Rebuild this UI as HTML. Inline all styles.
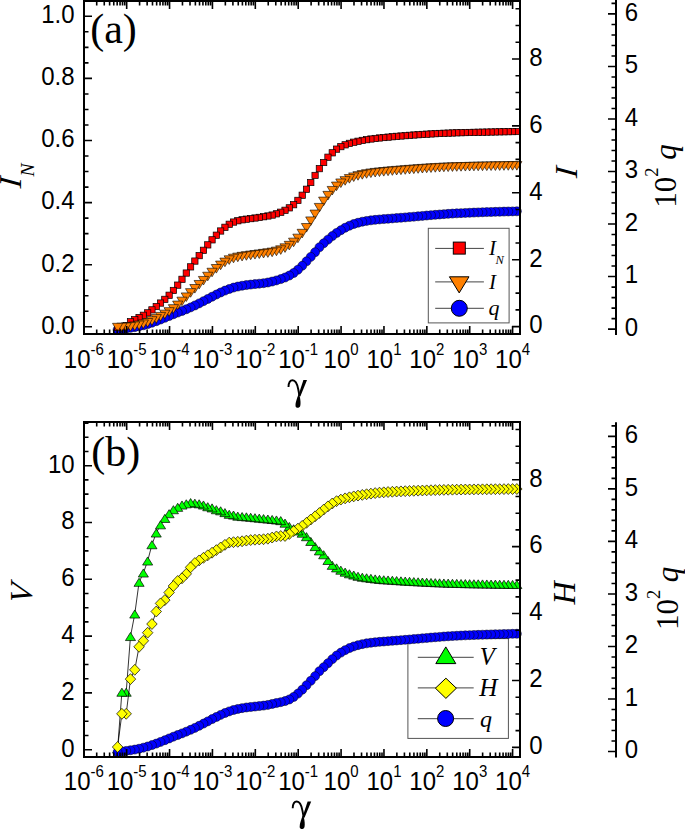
<!DOCTYPE html>
<html><head><meta charset="utf-8"><style>
html,body{margin:0;padding:0;background:#fff;overflow:hidden}
svg{display:block}
.tk{font-family:"Liberation Sans",sans-serif;font-size:24px;fill:#000}
.sup{font-size:15px}
.se{font-family:"Liberation Serif",serif;fill:#000}
.it{font-family:"Liberation Serif",serif;font-style:italic;fill:#000}
</style></head><body>
<svg width="685" height="829" viewBox="0 0 685 829">
<rect x="0" y="0" width="685" height="829" fill="#fff"/>
<polyline points="117.6,329.8 121.89,329.14 126.19,328.49 130.48,327.87 134.77,327.18 139.06,326.32 143.36,325.28 147.65,324.09 151.94,322.7 156.24,321.2 160.53,319.54 164.82,317.81 169.12,316.05 173.41,314.28 177.7,312.59 182,310.97 186.29,309.26 190.58,307.42 194.87,305.47 199.17,303.38 203.46,301.19 207.75,298.97 212.05,296.71 216.34,294.56 220.63,292.48 224.93,290.62 229.22,288.99 233.51,287.59 237.8,286.55 242.1,285.72 246.39,285.07 250.68,284.57 254.98,284.11 259.27,283.66 263.56,283.19 267.86,282.5 272.15,281.54 276.44,280.42 280.73,279.11 285.03,277.52 289.32,275.54 293.61,273.03 297.91,269.71 302.2,265.81 306.49,261.37 310.78,256.88 315.08,252.22 319.37,247.34 323.66,243.3 327.96,239.63 332.25,236.11 336.54,232.98 340.84,230.2 345.13,227.74 349.42,225.7 353.72,224.02 358.01,222.73 362.3,221.7 366.59,220.93 370.89,220.33 375.18,219.83 379.47,219.43 383.77,219.08 388.06,218.74 392.35,218.4 396.64,218.06 400.94,217.73 405.23,217.39 409.52,217.04 413.82,216.68 418.11,216.29 422.4,215.91 426.7,215.53 430.99,215.17 435.28,214.82 439.58,214.46 443.87,214.13 448.16,213.83 452.45,213.58 456.75,213.35 461.04,213.14 465.33,212.94 469.63,212.75 473.92,212.58 478.21,212.42 482.5,212.26 486.8,212.12 491.09,211.98 495.38,211.84 499.68,211.71 503.97,211.6 508.26,211.49 512.56,211.39 516.85,211.3" fill="none" stroke="#000" stroke-width="0.8"/>
<g fill="#00f" stroke="#000" stroke-width="0.5">
<circle cx="516.85" cy="211.3" r="4.5"/>
<circle cx="512.56" cy="211.39" r="4.5"/>
<circle cx="508.26" cy="211.49" r="4.5"/>
<circle cx="503.97" cy="211.6" r="4.5"/>
<circle cx="499.68" cy="211.71" r="4.5"/>
<circle cx="495.38" cy="211.84" r="4.5"/>
<circle cx="491.09" cy="211.98" r="4.5"/>
<circle cx="486.8" cy="212.12" r="4.5"/>
<circle cx="482.5" cy="212.26" r="4.5"/>
<circle cx="478.21" cy="212.42" r="4.5"/>
<circle cx="473.92" cy="212.58" r="4.5"/>
<circle cx="469.63" cy="212.75" r="4.5"/>
<circle cx="465.33" cy="212.94" r="4.5"/>
<circle cx="461.04" cy="213.14" r="4.5"/>
<circle cx="456.75" cy="213.35" r="4.5"/>
<circle cx="452.45" cy="213.58" r="4.5"/>
<circle cx="448.16" cy="213.83" r="4.5"/>
<circle cx="443.87" cy="214.13" r="4.5"/>
<circle cx="439.58" cy="214.46" r="4.5"/>
<circle cx="435.28" cy="214.82" r="4.5"/>
<circle cx="430.99" cy="215.17" r="4.5"/>
<circle cx="426.7" cy="215.53" r="4.5"/>
<circle cx="422.4" cy="215.91" r="4.5"/>
<circle cx="418.11" cy="216.29" r="4.5"/>
<circle cx="413.82" cy="216.68" r="4.5"/>
<circle cx="409.52" cy="217.04" r="4.5"/>
<circle cx="405.23" cy="217.39" r="4.5"/>
<circle cx="400.94" cy="217.73" r="4.5"/>
<circle cx="396.64" cy="218.06" r="4.5"/>
<circle cx="392.35" cy="218.4" r="4.5"/>
<circle cx="388.06" cy="218.74" r="4.5"/>
<circle cx="383.77" cy="219.08" r="4.5"/>
<circle cx="379.47" cy="219.43" r="4.5"/>
<circle cx="375.18" cy="219.83" r="4.5"/>
<circle cx="370.89" cy="220.33" r="4.5"/>
<circle cx="366.59" cy="220.93" r="4.5"/>
<circle cx="362.3" cy="221.7" r="4.5"/>
<circle cx="358.01" cy="222.73" r="4.5"/>
<circle cx="353.72" cy="224.02" r="4.5"/>
<circle cx="349.42" cy="225.7" r="4.5"/>
<circle cx="345.13" cy="227.74" r="4.5"/>
<circle cx="340.84" cy="230.2" r="4.5"/>
<circle cx="336.54" cy="232.98" r="4.5"/>
<circle cx="332.25" cy="236.11" r="4.5"/>
<circle cx="327.96" cy="239.63" r="4.5"/>
<circle cx="323.66" cy="243.3" r="4.5"/>
<circle cx="319.37" cy="247.34" r="4.5"/>
<circle cx="315.08" cy="252.22" r="4.5"/>
<circle cx="310.78" cy="256.88" r="4.5"/>
<circle cx="306.49" cy="261.37" r="4.5"/>
<circle cx="302.2" cy="265.81" r="4.5"/>
<circle cx="297.91" cy="269.71" r="4.5"/>
<circle cx="293.61" cy="273.03" r="4.5"/>
<circle cx="289.32" cy="275.54" r="4.5"/>
<circle cx="285.03" cy="277.52" r="4.5"/>
<circle cx="280.73" cy="279.11" r="4.5"/>
<circle cx="276.44" cy="280.42" r="4.5"/>
<circle cx="272.15" cy="281.54" r="4.5"/>
<circle cx="267.86" cy="282.5" r="4.5"/>
<circle cx="263.56" cy="283.19" r="4.5"/>
<circle cx="259.27" cy="283.66" r="4.5"/>
<circle cx="254.98" cy="284.11" r="4.5"/>
<circle cx="250.68" cy="284.57" r="4.5"/>
<circle cx="246.39" cy="285.07" r="4.5"/>
<circle cx="242.1" cy="285.72" r="4.5"/>
<circle cx="237.8" cy="286.55" r="4.5"/>
<circle cx="233.51" cy="287.59" r="4.5"/>
<circle cx="229.22" cy="288.99" r="4.5"/>
<circle cx="224.93" cy="290.62" r="4.5"/>
<circle cx="220.63" cy="292.48" r="4.5"/>
<circle cx="216.34" cy="294.56" r="4.5"/>
<circle cx="212.05" cy="296.71" r="4.5"/>
<circle cx="207.75" cy="298.97" r="4.5"/>
<circle cx="203.46" cy="301.19" r="4.5"/>
<circle cx="199.17" cy="303.38" r="4.5"/>
<circle cx="194.87" cy="305.47" r="4.5"/>
<circle cx="190.58" cy="307.42" r="4.5"/>
<circle cx="186.29" cy="309.26" r="4.5"/>
<circle cx="182" cy="310.97" r="4.5"/>
<circle cx="177.7" cy="312.59" r="4.5"/>
<circle cx="173.41" cy="314.28" r="4.5"/>
<circle cx="169.12" cy="316.05" r="4.5"/>
<circle cx="164.82" cy="317.81" r="4.5"/>
<circle cx="160.53" cy="319.54" r="4.5"/>
<circle cx="156.24" cy="321.2" r="4.5"/>
<circle cx="151.94" cy="322.7" r="4.5"/>
<circle cx="147.65" cy="324.09" r="4.5"/>
<circle cx="143.36" cy="325.28" r="4.5"/>
<circle cx="139.06" cy="326.32" r="4.5"/>
<circle cx="134.77" cy="327.18" r="4.5"/>
<circle cx="130.48" cy="327.87" r="4.5"/>
<circle cx="126.19" cy="328.49" r="4.5"/>
<circle cx="121.89" cy="329.14" r="4.5"/>
<circle cx="117.6" cy="329.8" r="4.5"/>
</g>
<polyline points="117.6,327.5 121.89,326.8 126.19,325.8 130.48,321.77 134.77,319.72 139.06,317.51 143.36,315.28 147.65,312.86 151.94,309.88 156.24,306.55 160.53,303.06 164.82,299.36 169.12,295.25 173.41,290.45 177.7,285.14 182,279.33 186.29,273.06 190.58,266.87 194.87,261.08 199.17,255.62 203.46,250.3 207.75,244.88 212.05,239.85 216.34,235.21 220.63,231 224.93,227.29 229.22,224.28 233.51,222.07 237.8,220.74 242.1,219.81 246.39,219.16 250.68,218.62 254.98,218.01 259.27,217.39 263.56,216.71 267.86,215.97 272.15,215.07 276.44,213.82 280.73,212.23 285.03,210.28 289.32,207.85 293.61,204.7 297.91,200.39 302.2,195.25 306.49,189.26 310.78,182.5 315.08,175.44 319.37,168.64 323.66,162.51 327.96,157.22 332.25,152.82 336.54,149.13 340.84,146.63 345.13,144.83 349.42,143.37 353.72,142.21 358.01,141.25 362.3,140.41 366.59,139.65 370.89,139.01 375.18,138.47 379.47,137.98 383.77,137.54 388.06,137.12 392.35,136.73 396.64,136.35 400.94,136 405.23,135.66 409.52,135.33 413.82,135.01 418.11,134.71 422.4,134.43 426.7,134.17 430.99,133.92 435.28,133.68 439.58,133.46 443.87,133.27 448.16,133.11 452.45,132.96 456.75,132.82 461.04,132.69 465.33,132.58 469.63,132.47 473.92,132.36 478.21,132.26 482.5,132.17 486.8,132.09 491.09,132 495.38,131.92 499.68,131.83 503.97,131.75 508.26,131.67 512.56,131.6 516.85,131.52" fill="none" stroke="#000" stroke-width="0.8"/>
<g fill="#f00" stroke="#000" stroke-width="0.7">
<rect x="513.7" y="128.37" width="6.3" height="6.3"/>
<rect x="509.41" y="128.45" width="6.3" height="6.3"/>
<rect x="505.11" y="128.52" width="6.3" height="6.3"/>
<rect x="500.82" y="128.6" width="6.3" height="6.3"/>
<rect x="496.53" y="128.68" width="6.3" height="6.3"/>
<rect x="492.23" y="128.77" width="6.3" height="6.3"/>
<rect x="487.94" y="128.85" width="6.3" height="6.3"/>
<rect x="483.65" y="128.94" width="6.3" height="6.3"/>
<rect x="479.36" y="129.02" width="6.3" height="6.3"/>
<rect x="475.06" y="129.11" width="6.3" height="6.3"/>
<rect x="470.77" y="129.21" width="6.3" height="6.3"/>
<rect x="466.48" y="129.32" width="6.3" height="6.3"/>
<rect x="462.18" y="129.43" width="6.3" height="6.3"/>
<rect x="457.89" y="129.54" width="6.3" height="6.3"/>
<rect x="453.6" y="129.67" width="6.3" height="6.3"/>
<rect x="449.3" y="129.81" width="6.3" height="6.3"/>
<rect x="445.01" y="129.96" width="6.3" height="6.3"/>
<rect x="440.72" y="130.12" width="6.3" height="6.3"/>
<rect x="436.43" y="130.31" width="6.3" height="6.3"/>
<rect x="432.13" y="130.53" width="6.3" height="6.3"/>
<rect x="427.84" y="130.77" width="6.3" height="6.3"/>
<rect x="423.55" y="131.02" width="6.3" height="6.3"/>
<rect x="419.25" y="131.28" width="6.3" height="6.3"/>
<rect x="414.96" y="131.56" width="6.3" height="6.3"/>
<rect x="410.67" y="131.86" width="6.3" height="6.3"/>
<rect x="406.37" y="132.18" width="6.3" height="6.3"/>
<rect x="402.08" y="132.51" width="6.3" height="6.3"/>
<rect x="397.79" y="132.85" width="6.3" height="6.3"/>
<rect x="393.5" y="133.2" width="6.3" height="6.3"/>
<rect x="389.2" y="133.58" width="6.3" height="6.3"/>
<rect x="384.91" y="133.97" width="6.3" height="6.3"/>
<rect x="380.62" y="134.39" width="6.3" height="6.3"/>
<rect x="376.32" y="134.83" width="6.3" height="6.3"/>
<rect x="372.03" y="135.32" width="6.3" height="6.3"/>
<rect x="367.74" y="135.86" width="6.3" height="6.3"/>
<rect x="363.44" y="136.5" width="6.3" height="6.3"/>
<rect x="359.15" y="137.26" width="6.3" height="6.3"/>
<rect x="354.86" y="138.1" width="6.3" height="6.3"/>
<rect x="350.57" y="139.06" width="6.3" height="6.3"/>
<rect x="346.27" y="140.22" width="6.3" height="6.3"/>
<rect x="341.98" y="141.68" width="6.3" height="6.3"/>
<rect x="337.69" y="143.48" width="6.3" height="6.3"/>
<rect x="333.39" y="145.98" width="6.3" height="6.3"/>
<rect x="329.1" y="149.67" width="6.3" height="6.3"/>
<rect x="324.81" y="154.07" width="6.3" height="6.3"/>
<rect x="320.51" y="159.36" width="6.3" height="6.3"/>
<rect x="316.22" y="165.49" width="6.3" height="6.3"/>
<rect x="311.93" y="172.29" width="6.3" height="6.3"/>
<rect x="307.63" y="179.35" width="6.3" height="6.3"/>
<rect x="303.34" y="186.11" width="6.3" height="6.3"/>
<rect x="299.05" y="192.1" width="6.3" height="6.3"/>
<rect x="294.76" y="197.24" width="6.3" height="6.3"/>
<rect x="290.46" y="201.55" width="6.3" height="6.3"/>
<rect x="286.17" y="204.7" width="6.3" height="6.3"/>
<rect x="281.88" y="207.13" width="6.3" height="6.3"/>
<rect x="277.58" y="209.08" width="6.3" height="6.3"/>
<rect x="273.29" y="210.67" width="6.3" height="6.3"/>
<rect x="269" y="211.92" width="6.3" height="6.3"/>
<rect x="264.71" y="212.82" width="6.3" height="6.3"/>
<rect x="260.41" y="213.56" width="6.3" height="6.3"/>
<rect x="256.12" y="214.24" width="6.3" height="6.3"/>
<rect x="251.83" y="214.86" width="6.3" height="6.3"/>
<rect x="247.53" y="215.47" width="6.3" height="6.3"/>
<rect x="243.24" y="216.01" width="6.3" height="6.3"/>
<rect x="238.95" y="216.66" width="6.3" height="6.3"/>
<rect x="234.65" y="217.59" width="6.3" height="6.3"/>
<rect x="230.36" y="218.92" width="6.3" height="6.3"/>
<rect x="226.07" y="221.13" width="6.3" height="6.3"/>
<rect x="221.78" y="224.14" width="6.3" height="6.3"/>
<rect x="217.48" y="227.85" width="6.3" height="6.3"/>
<rect x="213.19" y="232.06" width="6.3" height="6.3"/>
<rect x="208.9" y="236.7" width="6.3" height="6.3"/>
<rect x="204.6" y="241.73" width="6.3" height="6.3"/>
<rect x="200.31" y="247.15" width="6.3" height="6.3"/>
<rect x="196.02" y="252.47" width="6.3" height="6.3"/>
<rect x="191.72" y="257.93" width="6.3" height="6.3"/>
<rect x="187.43" y="263.72" width="6.3" height="6.3"/>
<rect x="183.14" y="269.91" width="6.3" height="6.3"/>
<rect x="178.84" y="276.18" width="6.3" height="6.3"/>
<rect x="174.55" y="281.99" width="6.3" height="6.3"/>
<rect x="170.26" y="287.3" width="6.3" height="6.3"/>
<rect x="165.97" y="292.1" width="6.3" height="6.3"/>
<rect x="161.67" y="296.21" width="6.3" height="6.3"/>
<rect x="157.38" y="299.91" width="6.3" height="6.3"/>
<rect x="153.09" y="303.4" width="6.3" height="6.3"/>
<rect x="148.79" y="306.73" width="6.3" height="6.3"/>
<rect x="144.5" y="309.71" width="6.3" height="6.3"/>
<rect x="140.21" y="312.13" width="6.3" height="6.3"/>
<rect x="135.91" y="314.36" width="6.3" height="6.3"/>
<rect x="131.62" y="316.57" width="6.3" height="6.3"/>
<rect x="127.33" y="318.62" width="6.3" height="6.3"/>
<rect x="123.04" y="322.65" width="6.3" height="6.3"/>
<rect x="118.74" y="323.65" width="6.3" height="6.3"/>
<rect x="114.45" y="324.35" width="6.3" height="6.3"/>
</g>
<polyline points="117.6,327.6 121.89,327.47 126.19,327.25 130.48,326.85 134.77,326.22 139.06,325.33 143.36,324.22 147.65,322.81 151.94,321 156.24,318.89 160.53,316.71 164.82,314.47 169.12,311.96 173.41,308.94 177.7,305.37 182,301.47 186.29,297.21 190.58,292.94 194.87,288.8 199.17,284.77 203.46,280.73 207.75,276.52 212.05,272.54 216.34,268.81 220.63,265.39 224.93,262.42 229.22,260.11 233.51,258.5 237.8,257.44 242.1,256.63 246.39,255.96 250.68,255.37 254.98,254.79 259.27,254.23 263.56,253.66 267.86,253.09 272.15,252.4 276.44,251.43 280.73,250.1 285.03,248.12 289.32,245.63 293.61,242.45 297.91,238.45 302.2,233.61 306.49,227.82 310.78,221.22 315.08,214.37 319.37,207.72 323.66,201.4 327.96,195.66 332.25,190.73 336.54,186.35 340.84,183.26 345.13,180.93 349.42,178.86 353.72,177.22 358.01,175.93 362.3,174.88 366.59,173.98 370.89,173.28 375.18,172.72 379.47,172.24 383.77,171.81 388.06,171.4 392.35,171.03 396.64,170.68 400.94,170.34 405.23,170.01 409.52,169.67 413.82,169.34 418.11,169.02 422.4,168.72 426.7,168.44 430.99,168.17 435.28,167.91 439.58,167.68 443.87,167.47 448.16,167.3 452.45,167.15 456.75,167.01 461.04,166.89 465.33,166.77 469.63,166.67 473.92,166.57 478.21,166.48 482.5,166.39 486.8,166.31 491.09,166.24 495.38,166.17 499.68,166.1 503.97,166.03 508.26,165.97 512.56,165.91 516.85,165.85" fill="none" stroke="#000" stroke-width="0.8"/>
<g fill="#ff8000" stroke="#000" stroke-width="0.6">
<path d="M511.75 161.55H521.95L516.85 170.15Z"/>
<path d="M507.46 161.61H517.66L512.56 170.21Z"/>
<path d="M503.16 161.67H513.36L508.26 170.27Z"/>
<path d="M498.87 161.73H509.07L503.97 170.33Z"/>
<path d="M494.58 161.8H504.78L499.68 170.4Z"/>
<path d="M490.28 161.87H500.48L495.38 170.47Z"/>
<path d="M485.99 161.94H496.19L491.09 170.54Z"/>
<path d="M481.7 162.01H491.9L486.8 170.61Z"/>
<path d="M477.4 162.09H487.61L482.5 170.69Z"/>
<path d="M473.11 162.18H483.31L478.21 170.78Z"/>
<path d="M468.82 162.27H479.02L473.92 170.87Z"/>
<path d="M464.53 162.37H474.73L469.63 170.97Z"/>
<path d="M460.23 162.47H470.43L465.33 171.07Z"/>
<path d="M455.94 162.59H466.14L461.04 171.19Z"/>
<path d="M451.65 162.71H461.85L456.75 171.31Z"/>
<path d="M447.35 162.85H457.55L452.45 171.45Z"/>
<path d="M443.06 163H453.26L448.16 171.6Z"/>
<path d="M438.77 163.17H448.97L443.87 171.77Z"/>
<path d="M434.48 163.38H444.68L439.58 171.98Z"/>
<path d="M430.18 163.61H440.38L435.28 172.21Z"/>
<path d="M425.89 163.87H436.09L430.99 172.47Z"/>
<path d="M421.6 164.14H431.8L426.7 172.74Z"/>
<path d="M417.3 164.42H427.5L422.4 173.02Z"/>
<path d="M413.01 164.72H423.21L418.11 173.32Z"/>
<path d="M408.72 165.04H418.92L413.82 173.64Z"/>
<path d="M404.42 165.37H414.62L409.52 173.97Z"/>
<path d="M400.13 165.71H410.33L405.23 174.31Z"/>
<path d="M395.84 166.04H406.04L400.94 174.64Z"/>
<path d="M391.54 166.38H401.75L396.64 174.98Z"/>
<path d="M387.25 166.73H397.45L392.35 175.33Z"/>
<path d="M382.96 167.1H393.16L388.06 175.7Z"/>
<path d="M378.67 167.51H388.87L383.77 176.11Z"/>
<path d="M374.37 167.94H384.57L379.47 176.54Z"/>
<path d="M370.08 168.42H380.28L375.18 177.02Z"/>
<path d="M365.79 168.98H375.99L370.89 177.58Z"/>
<path d="M361.49 169.68H371.69L366.59 178.28Z"/>
<path d="M357.2 170.58H367.4L362.3 179.18Z"/>
<path d="M352.91 171.63H363.11L358.01 180.23Z"/>
<path d="M348.62 172.92H358.82L353.72 181.52Z"/>
<path d="M344.32 174.56H354.52L349.42 183.16Z"/>
<path d="M340.03 176.63H350.23L345.13 185.23Z"/>
<path d="M335.74 178.96H345.94L340.84 187.56Z"/>
<path d="M331.44 182.05H341.64L336.54 190.65Z"/>
<path d="M327.15 186.43H337.35L332.25 195.03Z"/>
<path d="M322.86 191.36H333.06L327.96 199.96Z"/>
<path d="M318.56 197.1H328.76L323.66 205.7Z"/>
<path d="M314.27 203.42H324.47L319.37 212.02Z"/>
<path d="M309.98 210.07H320.18L315.08 218.67Z"/>
<path d="M305.68 216.92H315.88L310.78 225.52Z"/>
<path d="M301.39 223.52H311.59L306.49 232.12Z"/>
<path d="M297.1 229.31H307.3L302.2 237.91Z"/>
<path d="M292.81 234.15H303.01L297.91 242.75Z"/>
<path d="M288.51 238.15H298.71L293.61 246.75Z"/>
<path d="M284.22 241.33H294.42L289.32 249.93Z"/>
<path d="M279.93 243.82H290.13L285.03 252.42Z"/>
<path d="M275.63 245.8H285.83L280.73 254.4Z"/>
<path d="M271.34 247.13H281.54L276.44 255.73Z"/>
<path d="M267.05 248.1H277.25L272.15 256.7Z"/>
<path d="M262.75 248.79H272.96L267.86 257.39Z"/>
<path d="M258.46 249.36H268.66L263.56 257.96Z"/>
<path d="M254.17 249.93H264.37L259.27 258.53Z"/>
<path d="M249.88 250.49H260.08L254.98 259.09Z"/>
<path d="M245.58 251.07H255.78L250.68 259.67Z"/>
<path d="M241.29 251.66H251.49L246.39 260.26Z"/>
<path d="M237 252.33H247.2L242.1 260.93Z"/>
<path d="M232.7 253.14H242.9L237.8 261.74Z"/>
<path d="M228.41 254.2H238.61L233.51 262.8Z"/>
<path d="M224.12 255.81H234.32L229.22 264.41Z"/>
<path d="M219.83 258.12H230.03L224.93 266.72Z"/>
<path d="M215.53 261.09H225.73L220.63 269.69Z"/>
<path d="M211.24 264.51H221.44L216.34 273.11Z"/>
<path d="M206.95 268.24H217.15L212.05 276.84Z"/>
<path d="M202.65 272.22H212.85L207.75 280.82Z"/>
<path d="M198.36 276.43H208.56L203.46 285.03Z"/>
<path d="M194.07 280.47H204.27L199.17 289.07Z"/>
<path d="M189.77 284.5H199.97L194.87 293.1Z"/>
<path d="M185.48 288.64H195.68L190.58 297.24Z"/>
<path d="M181.19 292.91H191.39L186.29 301.51Z"/>
<path d="M176.9 297.17H187.09L182 305.77Z"/>
<path d="M172.6 301.07H182.8L177.7 309.67Z"/>
<path d="M168.31 304.64H178.51L173.41 313.24Z"/>
<path d="M164.02 307.66H174.22L169.12 316.26Z"/>
<path d="M159.72 310.17H169.92L164.82 318.77Z"/>
<path d="M155.43 312.41H165.63L160.53 321.01Z"/>
<path d="M151.14 314.59H161.34L156.24 323.19Z"/>
<path d="M146.84 316.7H157.04L151.94 325.3Z"/>
<path d="M142.55 318.51H152.75L147.65 327.11Z"/>
<path d="M138.26 319.92H148.46L143.36 328.52Z"/>
<path d="M133.97 321.03H144.16L139.06 329.63Z"/>
<path d="M129.67 321.92H139.87L134.77 330.52Z"/>
<path d="M125.38 322.55H135.58L130.48 331.15Z"/>
<path d="M121.09 322.95H131.29L126.19 331.55Z"/>
<path d="M116.79 323.17H126.99L121.89 331.77Z"/>
<path d="M112.5 323.3H122.7L117.6 331.9Z"/>
</g>
<rect x="428.3" y="228.3" width="80.8" height="94.6" fill="none" stroke="#555" stroke-width="1"/>
<line x1="435.2" y1="248.4" x2="483.9" y2="248.4" stroke="#444" stroke-width="1"/>
<line x1="435.2" y1="281.9" x2="483.9" y2="281.9" stroke="#444" stroke-width="1"/>
<line x1="435.2" y1="308.3" x2="483.9" y2="308.3" stroke="#444" stroke-width="1"/>
<rect x="453.3" y="242.1" width="12" height="12" fill="#f00" stroke="#000" stroke-width="1"/>
<path d="M449.4 276.8H469L459.2 292.9Z" fill="#ff8000" stroke="#000" stroke-width="1"/>
<circle cx="459.3" cy="308.3" r="8" fill="#00f" stroke="#000" stroke-width="1"/>
<text x="489" y="255" class="it" font-size="21">I</text>
<text x="495.5" y="263.6" class="it" font-size="12.5">N</text>
<text x="489" y="289" class="it" font-size="21">I</text>
<text x="488.5" y="314.6" class="it" font-size="22">q</text>
<rect x="84.0" y="1.0" width="436.0" height="333.0" fill="none" stroke="#000" stroke-width="2"/>
<path d="M83.8 334V326 M83.8 1V9 M96.71 334V329.5 M96.71 1V5.5 M104.26 334V329.5 M104.26 1V5.5 M109.62 334V329.5 M109.62 1V5.5 M113.77 334V329.5 M113.77 1V5.5 M117.17 334V329.5 M117.17 1V5.5 M120.04 334V329.5 M120.04 1V5.5 M122.52 334V329.5 M122.52 1V5.5 M124.72 334V329.5 M124.72 1V5.5 M126.68 334V326 M126.68 1V9 M139.59 334V329.5 M139.59 1V5.5 M147.14 334V329.5 M147.14 1V5.5 M152.5 334V329.5 M152.5 1V5.5 M156.65 334V329.5 M156.65 1V5.5 M160.05 334V329.5 M160.05 1V5.5 M162.92 334V329.5 M162.92 1V5.5 M165.4 334V329.5 M165.4 1V5.5 M167.6 334V329.5 M167.6 1V5.5 M169.56 334V326 M169.56 1V9 M182.47 334V329.5 M182.47 1V5.5 M190.02 334V329.5 M190.02 1V5.5 M195.38 334V329.5 M195.38 1V5.5 M199.53 334V329.5 M199.53 1V5.5 M202.93 334V329.5 M202.93 1V5.5 M205.8 334V329.5 M205.8 1V5.5 M208.28 334V329.5 M208.28 1V5.5 M210.48 334V329.5 M210.48 1V5.5 M212.44 334V326 M212.44 1V9 M225.35 334V329.5 M225.35 1V5.5 M232.9 334V329.5 M232.9 1V5.5 M238.26 334V329.5 M238.26 1V5.5 M242.41 334V329.5 M242.41 1V5.5 M245.81 334V329.5 M245.81 1V5.5 M248.68 334V329.5 M248.68 1V5.5 M251.16 334V329.5 M251.16 1V5.5 M253.36 334V329.5 M253.36 1V5.5 M255.32 334V326 M255.32 1V9 M268.23 334V329.5 M268.23 1V5.5 M275.78 334V329.5 M275.78 1V5.5 M281.14 334V329.5 M281.14 1V5.5 M285.29 334V329.5 M285.29 1V5.5 M288.69 334V329.5 M288.69 1V5.5 M291.56 334V329.5 M291.56 1V5.5 M294.04 334V329.5 M294.04 1V5.5 M296.24 334V329.5 M296.24 1V5.5 M298.2 334V326 M298.2 1V9 M311.11 334V329.5 M311.11 1V5.5 M318.66 334V329.5 M318.66 1V5.5 M324.02 334V329.5 M324.02 1V5.5 M328.17 334V329.5 M328.17 1V5.5 M331.57 334V329.5 M331.57 1V5.5 M334.44 334V329.5 M334.44 1V5.5 M336.92 334V329.5 M336.92 1V5.5 M339.12 334V329.5 M339.12 1V5.5 M341.08 334V326 M341.08 1V9 M353.99 334V329.5 M353.99 1V5.5 M361.54 334V329.5 M361.54 1V5.5 M366.9 334V329.5 M366.9 1V5.5 M371.05 334V329.5 M371.05 1V5.5 M374.45 334V329.5 M374.45 1V5.5 M377.32 334V329.5 M377.32 1V5.5 M379.8 334V329.5 M379.8 1V5.5 M382 334V329.5 M382 1V5.5 M383.96 334V326 M383.96 1V9 M396.87 334V329.5 M396.87 1V5.5 M404.42 334V329.5 M404.42 1V5.5 M409.78 334V329.5 M409.78 1V5.5 M413.93 334V329.5 M413.93 1V5.5 M417.33 334V329.5 M417.33 1V5.5 M420.2 334V329.5 M420.2 1V5.5 M422.68 334V329.5 M422.68 1V5.5 M424.88 334V329.5 M424.88 1V5.5 M426.84 334V326 M426.84 1V9 M439.75 334V329.5 M439.75 1V5.5 M447.3 334V329.5 M447.3 1V5.5 M452.66 334V329.5 M452.66 1V5.5 M456.81 334V329.5 M456.81 1V5.5 M460.21 334V329.5 M460.21 1V5.5 M463.08 334V329.5 M463.08 1V5.5 M465.56 334V329.5 M465.56 1V5.5 M467.76 334V329.5 M467.76 1V5.5 M469.72 334V326 M469.72 1V9 M482.63 334V329.5 M482.63 1V5.5 M490.18 334V329.5 M490.18 1V5.5 M495.54 334V329.5 M495.54 1V5.5 M499.69 334V329.5 M499.69 1V5.5 M503.09 334V329.5 M503.09 1V5.5 M505.96 334V329.5 M505.96 1V5.5 M508.44 334V329.5 M508.44 1V5.5 M510.64 334V329.5 M510.64 1V5.5 M512.6 334V326 M512.6 1V9" stroke="#000" stroke-width="1.6" fill="none"/>
<text transform="translate(83.8 367.9) scale(1 1.05)" text-anchor="middle" class="tk">10<tspan class="sup" dy="-12.67">-6</tspan></text>
<text transform="translate(126.68 367.9) scale(1 1.05)" text-anchor="middle" class="tk">10<tspan class="sup" dy="-12.67">-5</tspan></text>
<text transform="translate(169.56 367.9) scale(1 1.05)" text-anchor="middle" class="tk">10<tspan class="sup" dy="-12.67">-4</tspan></text>
<text transform="translate(212.44 367.9) scale(1 1.05)" text-anchor="middle" class="tk">10<tspan class="sup" dy="-12.67">-3</tspan></text>
<text transform="translate(255.32 367.9) scale(1 1.05)" text-anchor="middle" class="tk">10<tspan class="sup" dy="-12.67">-2</tspan></text>
<text transform="translate(298.2 367.9) scale(1 1.05)" text-anchor="middle" class="tk">10<tspan class="sup" dy="-12.67">-1</tspan></text>
<text transform="translate(341.08 367.9) scale(1 1.05)" text-anchor="middle" class="tk">10<tspan class="sup" dy="-12.67">0</tspan></text>
<text transform="translate(383.96 367.9) scale(1 1.05)" text-anchor="middle" class="tk">10<tspan class="sup" dy="-12.67">1</tspan></text>
<text transform="translate(426.84 367.9) scale(1 1.05)" text-anchor="middle" class="tk">10<tspan class="sup" dy="-12.67">2</tspan></text>
<text transform="translate(469.72 367.9) scale(1 1.05)" text-anchor="middle" class="tk">10<tspan class="sup" dy="-12.67">3</tspan></text>
<text transform="translate(512.6 367.9) scale(1 1.05)" text-anchor="middle" class="tk">10<tspan class="sup" dy="-12.67">4</tspan></text>
<text transform="translate(74.6 333.6) scale(1 1.05)" text-anchor="end" class="tk">0.0</text>
<text transform="translate(74.6 271.5) scale(1 1.05)" text-anchor="end" class="tk">0.2</text>
<text transform="translate(74.6 209.4) scale(1 1.05)" text-anchor="end" class="tk">0.4</text>
<text transform="translate(74.6 147.3) scale(1 1.05)" text-anchor="end" class="tk">0.6</text>
<text transform="translate(74.6 85.2) scale(1 1.05)" text-anchor="end" class="tk">0.8</text>
<text transform="translate(74.6 23.1) scale(1 1.05)" text-anchor="end" class="tk">1.0</text>
<path d="M84 326.8H92 M84 311.28H88.5 M84 295.75H88.5 M84 280.23H88.5 M84 264.7H92 M84 249.18H88.5 M84 233.65H88.5 M84 218.12H88.5 M84 202.6H92 M84 187.08H88.5 M84 171.55H88.5 M84 156.03H88.5 M84 140.5H92 M84 124.97H88.5 M84 109.45H88.5 M84 93.93H88.5 M84 78.4H92 M84 62.88H88.5 M84 47.35H88.5 M84 31.82H88.5 M84 16.3H92 M84 0.77H88.5" stroke="#000" stroke-width="1.6" fill="none"/>
<text transform="translate(529.2 333.4) scale(1 1.05)" text-anchor="start" class="tk">0</text>
<text transform="translate(529.2 266.5) scale(1 1.05)" text-anchor="start" class="tk">2</text>
<text transform="translate(529.2 199.6) scale(1 1.05)" text-anchor="start" class="tk">4</text>
<text transform="translate(529.2 132.7) scale(1 1.05)" text-anchor="start" class="tk">6</text>
<text transform="translate(529.2 65.8) scale(1 1.05)" text-anchor="start" class="tk">8</text>
<path d="M520 326.6H512 M520 309.88H515.5 M520 293.15H515.5 M520 276.43H515.5 M520 259.7H512 M520 242.98H515.5 M520 226.25H515.5 M520 209.53H515.5 M520 192.8H512 M520 176.08H515.5 M520 159.35H515.5 M520 142.62H515.5 M520 125.9H512 M520 109.18H515.5 M520 92.45H515.5 M520 75.72H515.5 M520 59H512 M520 42.27H515.5 M520 25.55H515.5 M520 8.82H515.5" stroke="#000" stroke-width="1.6" fill="none"/>
<line x1="616" y1="0" x2="616" y2="335" stroke="#000" stroke-width="2"/>
<text transform="translate(624.8 335.9) scale(1 1.05)" text-anchor="start" class="tk">0</text>
<text transform="translate(624.8 283.37) scale(1 1.05)" text-anchor="start" class="tk">1</text>
<text transform="translate(624.8 230.84) scale(1 1.05)" text-anchor="start" class="tk">2</text>
<text transform="translate(624.8 178.31) scale(1 1.05)" text-anchor="start" class="tk">3</text>
<text transform="translate(624.8 125.78) scale(1 1.05)" text-anchor="start" class="tk">4</text>
<text transform="translate(624.8 73.25) scale(1 1.05)" text-anchor="start" class="tk">5</text>
<text transform="translate(624.8 20.72) scale(1 1.05)" text-anchor="start" class="tk">6</text>
<path d="M616 329.1H608 M616 318.59H611.5 M616 308.09H611.5 M616 297.58H611.5 M616 287.08H611.5 M616 276.57H608 M616 266.06H611.5 M616 255.56H611.5 M616 245.05H611.5 M616 234.55H611.5 M616 224.04H608 M616 213.53H611.5 M616 203.03H611.5 M616 192.52H611.5 M616 182.02H611.5 M616 171.51H608 M616 161H611.5 M616 150.5H611.5 M616 139.99H611.5 M616 129.49H611.5 M616 118.98H608 M616 108.47H611.5 M616 97.97H611.5 M616 87.46H611.5 M616 76.96H611.5 M616 66.45H608 M616 55.94H611.5 M616 45.44H611.5 M616 34.93H611.5 M616 24.43H611.5 M616 13.92H608 M616 3.41H611.5" stroke="#000" stroke-width="1.6" fill="none"/>
<text x="90.2" y="42.5" class="se" font-size="42">(a)</text>
<g><path d="M288.5 387 C288.6 382.6 290.4 380.2 292.6 380.2 C296 380.2 297.4 384.5 298.3 389.5 L299.4 395.6" fill="none" stroke="#000" stroke-width="1.9"/><path d="M303.4 380.1 L307 380.1 L300.3 396.4 L298.3 395.6 Z" fill="#000"/><path d="M298.9 393.8 C300.6 398.5 300.9 404 300.1 406.3 C299.4 408.2 296.2 408.3 295.6 406.4 C295 404 296.7 398.5 298.9 393.8 Z" fill="#000"/></g>
<text transform="translate(20.7 188.5) rotate(-90) skewX(-5)" class="it" font-size="32">I</text>
<text transform="translate(33.9 176.5) rotate(-90)" class="it" font-size="19.5">N</text>
<text transform="translate(577.1 178.2) rotate(-90) skewX(-5)" class="it" font-size="32">I</text>
<text transform="translate(676 207.7) rotate(-90)" class="se" font-size="31">10<tspan font-size="18.4" dy="-18.3">2</tspan><tspan class="it" dy="18.3"> q</tspan></text>
<rect x="407.9" y="638.6" width="100.5" height="99.8" fill="none" stroke="#555" stroke-width="1"/>
<line x1="417.8" y1="657.3" x2="473.7" y2="657.3" stroke="#444" stroke-width="1"/>
<line x1="417.8" y1="687.9" x2="473.7" y2="687.9" stroke="#444" stroke-width="1"/>
<line x1="417.8" y1="718.7" x2="473.7" y2="718.7" stroke="#444" stroke-width="1"/>
<path d="M435.8 663.6H455.8L445.8 646.9Z" fill="#0f0" stroke="#000" stroke-width="1"/>
<path d="M445.9 678.2L456.4 688.2L445.9 698.4L435.4 688.2Z" fill="#ff0" stroke="#000" stroke-width="1"/>
<circle cx="445.6" cy="718.5" r="8" fill="#00f" stroke="#000" stroke-width="1"/>
<text x="479.8" y="665.2" class="it" font-size="24.5">V</text>
<text x="479.2" y="696.4" class="it" font-size="25.2">H</text>
<text x="480" y="726.5" class="it" font-size="24">q</text>
<polyline points="117.6,749 121.89,692.2 126.19,692.2 130.48,636.5 134.77,614 139.06,582.3 143.36,573 147.65,561 151.94,544.7 156.24,533 160.53,524.8 164.82,518.4 169.12,513.7 173.41,509.7 177.7,507.3 182,505 186.29,503.8 190.58,502.6 194.87,503.2 199.17,503.8 203.46,505 207.75,506.7 212.05,507.9 216.34,509.7 220.63,510.8 224.93,512.6 229.22,514.3 233.51,515.05 237.8,516.16 242.1,516.55 246.39,516.86 250.68,517.27 254.98,517.72 259.27,518.17 263.56,518.61 267.86,519.04 272.15,519.48 276.44,519.96 280.73,520.62 285.03,523.14 289.32,526.49 293.61,528.76 297.91,530.9 302.2,533.16 306.49,536.67 310.78,541.41 315.08,546.59 319.37,550.87 323.66,554.76 327.96,560.45 332.25,565.32 336.54,567.88 340.84,570.18 345.13,572.15 349.42,573.77 353.72,575.04 358.01,576.29 362.3,577.23 366.59,577.79 370.89,578.37 375.18,578.93 379.47,579.41 383.77,579.77 388.06,580 392.35,580.25 396.64,580.57 400.94,580.86 405.23,581.11 409.52,581.36 413.82,581.6 418.11,581.84 422.4,582.06 426.7,582.28 430.99,582.49 435.28,582.68 439.58,582.86 443.87,583.02 448.16,583.17 452.45,583.3 456.75,583.41 461.04,583.51 465.33,583.61 469.63,583.69 473.92,583.78 478.21,583.85 482.5,583.93 486.8,584 491.09,584.07 495.38,584.14 499.68,584.21 503.97,584.28 508.26,584.35 512.56,584.43 516.85,584.5" fill="none" stroke="#000" stroke-width="0.8"/>
<g fill="#0f0" stroke="#000" stroke-width="0.7">
<path d="M511.8 588.55H521.9L516.85 580.45Z"/>
<path d="M507.51 588.48H517.61L512.56 580.38Z"/>
<path d="M503.21 588.4H513.31L508.26 580.3Z"/>
<path d="M498.92 588.33H509.02L503.97 580.23Z"/>
<path d="M494.63 588.26H504.73L499.68 580.16Z"/>
<path d="M490.33 588.19H500.43L495.38 580.09Z"/>
<path d="M486.04 588.12H496.14L491.09 580.02Z"/>
<path d="M481.75 588.05H491.85L486.8 579.95Z"/>
<path d="M477.45 587.98H487.56L482.5 579.88Z"/>
<path d="M473.16 587.9H483.26L478.21 579.8Z"/>
<path d="M468.87 587.83H478.97L473.92 579.73Z"/>
<path d="M464.58 587.74H474.68L469.63 579.64Z"/>
<path d="M460.28 587.66H470.38L465.33 579.56Z"/>
<path d="M455.99 587.56H466.09L461.04 579.46Z"/>
<path d="M451.7 587.46H461.8L456.75 579.36Z"/>
<path d="M447.4 587.35H457.5L452.45 579.25Z"/>
<path d="M443.11 587.22H453.21L448.16 579.12Z"/>
<path d="M438.82 587.07H448.92L443.87 578.97Z"/>
<path d="M434.53 586.91H444.63L439.58 578.81Z"/>
<path d="M430.23 586.73H440.33L435.28 578.63Z"/>
<path d="M425.94 586.54H436.04L430.99 578.44Z"/>
<path d="M421.65 586.33H431.75L426.7 578.23Z"/>
<path d="M417.35 586.11H427.45L422.4 578.01Z"/>
<path d="M413.06 585.89H423.16L418.11 577.79Z"/>
<path d="M408.77 585.65H418.87L413.82 577.55Z"/>
<path d="M404.47 585.41H414.57L409.52 577.31Z"/>
<path d="M400.18 585.16H410.28L405.23 577.06Z"/>
<path d="M395.89 584.91H405.99L400.94 576.81Z"/>
<path d="M391.59 584.62H401.69L396.64 576.52Z"/>
<path d="M387.3 584.3H397.4L392.35 576.2Z"/>
<path d="M383.01 584.05H393.11L388.06 575.95Z"/>
<path d="M378.72 583.82H388.82L383.77 575.72Z"/>
<path d="M374.42 583.46H384.52L379.47 575.36Z"/>
<path d="M370.13 582.98H380.23L375.18 574.88Z"/>
<path d="M365.84 582.42H375.94L370.89 574.32Z"/>
<path d="M361.54 581.84H371.64L366.59 573.74Z"/>
<path d="M357.25 581.28H367.35L362.3 573.18Z"/>
<path d="M352.96 580.34H363.06L358.01 572.24Z"/>
<path d="M348.67 579.09H358.77L353.72 570.99Z"/>
<path d="M344.37 577.82H354.47L349.42 569.72Z"/>
<path d="M340.08 576.2H350.18L345.13 568.1Z"/>
<path d="M335.79 574.23H345.89L340.84 566.13Z"/>
<path d="M331.49 571.93H341.59L336.54 563.83Z"/>
<path d="M327.2 569.37H337.3L332.25 561.27Z"/>
<path d="M322.91 564.5H333.01L327.96 556.4Z"/>
<path d="M318.61 558.81H328.71L323.66 550.71Z"/>
<path d="M314.32 554.92H324.42L319.37 546.82Z"/>
<path d="M310.03 550.64H320.13L315.08 542.54Z"/>
<path d="M305.73 545.46H315.83L310.78 537.36Z"/>
<path d="M301.44 540.72H311.54L306.49 532.62Z"/>
<path d="M297.15 537.21H307.25L302.2 529.11Z"/>
<path d="M292.86 534.95H302.96L297.91 526.85Z"/>
<path d="M288.56 532.81H298.66L293.61 524.71Z"/>
<path d="M284.27 530.54H294.37L289.32 522.44Z"/>
<path d="M279.98 527.19H290.08L285.03 519.09Z"/>
<path d="M275.68 524.67H285.78L280.73 516.57Z"/>
<path d="M271.39 524.01H281.49L276.44 515.91Z"/>
<path d="M267.1 523.53H277.2L272.15 515.43Z"/>
<path d="M262.81 523.09H272.91L267.86 514.99Z"/>
<path d="M258.51 522.66H268.61L263.56 514.56Z"/>
<path d="M254.22 522.22H264.32L259.27 514.12Z"/>
<path d="M249.93 521.77H260.03L254.98 513.67Z"/>
<path d="M245.63 521.32H255.73L250.68 513.22Z"/>
<path d="M241.34 520.91H251.44L246.39 512.81Z"/>
<path d="M237.05 520.6H247.15L242.1 512.5Z"/>
<path d="M232.75 520.21H242.85L237.8 512.11Z"/>
<path d="M228.46 519.1H238.56L233.51 511Z"/>
<path d="M224.17 518.35H234.27L229.22 510.25Z"/>
<path d="M219.88 516.65H229.98L224.93 508.55Z"/>
<path d="M215.58 514.85H225.68L220.63 506.75Z"/>
<path d="M211.29 513.75H221.39L216.34 505.65Z"/>
<path d="M207 511.95H217.1L212.05 503.85Z"/>
<path d="M202.7 510.75H212.8L207.75 502.65Z"/>
<path d="M198.41 509.05H208.51L203.46 500.95Z"/>
<path d="M194.12 507.85H204.22L199.17 499.75Z"/>
<path d="M189.82 507.25H199.92L194.87 499.15Z"/>
<path d="M185.53 506.65H195.63L190.58 498.55Z"/>
<path d="M181.24 507.85H191.34L186.29 499.75Z"/>
<path d="M176.94 509.05H187.05L182 500.95Z"/>
<path d="M172.65 511.35H182.75L177.7 503.25Z"/>
<path d="M168.36 513.75H178.46L173.41 505.65Z"/>
<path d="M164.07 517.75H174.17L169.12 509.65Z"/>
<path d="M159.77 522.45H169.87L164.82 514.35Z"/>
<path d="M155.48 528.85H165.58L160.53 520.75Z"/>
<path d="M151.19 537.05H161.29L156.24 528.95Z"/>
<path d="M146.89 548.75H156.99L151.94 540.65Z"/>
<path d="M142.6 565.05H152.7L147.65 556.95Z"/>
<path d="M138.31 577.05H148.41L143.36 568.95Z"/>
<path d="M134.01 586.35H144.12L139.06 578.25Z"/>
<path d="M129.72 618.05H139.82L134.77 609.95Z"/>
<path d="M125.43 640.55H135.53L130.48 632.45Z"/>
<path d="M121.14 696.25H131.24L126.19 688.15Z"/>
<path d="M116.84 696.25H126.94L121.89 688.15Z"/>
<path d="M112.55 753.05H122.65L117.6 744.95Z"/>
</g>
<polyline points="117.6,752.2 121.89,751.54 126.19,750.89 130.48,750.27 134.77,749.59 139.06,748.72 143.36,747.68 147.65,746.49 151.94,745.11 156.24,743.6 160.53,741.94 164.82,740.21 169.12,738.45 173.41,736.68 177.7,735 182,733.38 186.29,731.66 190.58,729.82 194.87,727.88 199.17,725.79 203.46,723.6 207.75,721.38 212.05,719.12 216.34,716.97 220.63,714.89 224.93,713.02 229.22,711.39 233.51,710 237.8,708.96 242.1,708.13 246.39,707.48 250.68,706.98 254.98,706.52 259.27,706.07 263.56,705.6 267.86,704.91 272.15,703.95 276.44,703 280.73,702.18 285.03,701.09 289.32,699.45 293.61,696.95 297.91,693.62 302.2,689.72 306.49,685.28 310.78,680.8 315.08,676.13 319.37,671.26 323.66,667.21 327.96,663.21 332.25,659.19 336.54,655.56 340.84,652.62 345.13,650.16 349.42,648.11 353.72,646.44 358.01,645.15 362.3,644.13 366.59,643.35 370.89,642.75 375.18,642.26 379.47,641.85 383.77,641.5 388.06,641.17 392.35,640.82 396.64,640.48 400.94,640.15 405.23,639.81 409.52,639.46 413.82,639.1 418.11,638.72 422.4,638.33 426.7,637.95 430.99,637.59 435.28,637.24 439.58,636.89 443.87,636.55 448.16,636.26 452.45,636 456.75,635.77 461.04,635.56 465.33,635.36 469.63,635.17 473.92,635 478.21,634.84 482.5,634.69 486.8,634.54 491.09,634.4 495.38,634.26 499.68,634.14 503.97,634.02 508.26,633.91 512.56,633.81 516.85,633.72" fill="none" stroke="#000" stroke-width="0.8"/>
<g fill="#00f" stroke="#000" stroke-width="0.5">
<circle cx="516.85" cy="633.72" r="4.5"/>
<circle cx="512.56" cy="633.81" r="4.5"/>
<circle cx="508.26" cy="633.91" r="4.5"/>
<circle cx="503.97" cy="634.02" r="4.5"/>
<circle cx="499.68" cy="634.14" r="4.5"/>
<circle cx="495.38" cy="634.26" r="4.5"/>
<circle cx="491.09" cy="634.4" r="4.5"/>
<circle cx="486.8" cy="634.54" r="4.5"/>
<circle cx="482.5" cy="634.69" r="4.5"/>
<circle cx="478.21" cy="634.84" r="4.5"/>
<circle cx="473.92" cy="635" r="4.5"/>
<circle cx="469.63" cy="635.17" r="4.5"/>
<circle cx="465.33" cy="635.36" r="4.5"/>
<circle cx="461.04" cy="635.56" r="4.5"/>
<circle cx="456.75" cy="635.77" r="4.5"/>
<circle cx="452.45" cy="636" r="4.5"/>
<circle cx="448.16" cy="636.26" r="4.5"/>
<circle cx="443.87" cy="636.55" r="4.5"/>
<circle cx="439.58" cy="636.89" r="4.5"/>
<circle cx="435.28" cy="637.24" r="4.5"/>
<circle cx="430.99" cy="637.59" r="4.5"/>
<circle cx="426.7" cy="637.95" r="4.5"/>
<circle cx="422.4" cy="638.33" r="4.5"/>
<circle cx="418.11" cy="638.72" r="4.5"/>
<circle cx="413.82" cy="639.1" r="4.5"/>
<circle cx="409.52" cy="639.46" r="4.5"/>
<circle cx="405.23" cy="639.81" r="4.5"/>
<circle cx="400.94" cy="640.15" r="4.5"/>
<circle cx="396.64" cy="640.48" r="4.5"/>
<circle cx="392.35" cy="640.82" r="4.5"/>
<circle cx="388.06" cy="641.17" r="4.5"/>
<circle cx="383.77" cy="641.5" r="4.5"/>
<circle cx="379.47" cy="641.85" r="4.5"/>
<circle cx="375.18" cy="642.26" r="4.5"/>
<circle cx="370.89" cy="642.75" r="4.5"/>
<circle cx="366.59" cy="643.35" r="4.5"/>
<circle cx="362.3" cy="644.13" r="4.5"/>
<circle cx="358.01" cy="645.15" r="4.5"/>
<circle cx="353.72" cy="646.44" r="4.5"/>
<circle cx="349.42" cy="648.11" r="4.5"/>
<circle cx="345.13" cy="650.16" r="4.5"/>
<circle cx="340.84" cy="652.62" r="4.5"/>
<circle cx="336.54" cy="655.56" r="4.5"/>
<circle cx="332.25" cy="659.19" r="4.5"/>
<circle cx="327.96" cy="663.21" r="4.5"/>
<circle cx="323.66" cy="667.21" r="4.5"/>
<circle cx="319.37" cy="671.26" r="4.5"/>
<circle cx="315.08" cy="676.13" r="4.5"/>
<circle cx="310.78" cy="680.8" r="4.5"/>
<circle cx="306.49" cy="685.28" r="4.5"/>
<circle cx="302.2" cy="689.72" r="4.5"/>
<circle cx="297.91" cy="693.62" r="4.5"/>
<circle cx="293.61" cy="696.95" r="4.5"/>
<circle cx="289.32" cy="699.45" r="4.5"/>
<circle cx="285.03" cy="701.09" r="4.5"/>
<circle cx="280.73" cy="702.18" r="4.5"/>
<circle cx="276.44" cy="703" r="4.5"/>
<circle cx="272.15" cy="703.95" r="4.5"/>
<circle cx="267.86" cy="704.91" r="4.5"/>
<circle cx="263.56" cy="705.6" r="4.5"/>
<circle cx="259.27" cy="706.07" r="4.5"/>
<circle cx="254.98" cy="706.52" r="4.5"/>
<circle cx="250.68" cy="706.98" r="4.5"/>
<circle cx="246.39" cy="707.48" r="4.5"/>
<circle cx="242.1" cy="708.13" r="4.5"/>
<circle cx="237.8" cy="708.96" r="4.5"/>
<circle cx="233.51" cy="710" r="4.5"/>
<circle cx="229.22" cy="711.39" r="4.5"/>
<circle cx="224.93" cy="713.02" r="4.5"/>
<circle cx="220.63" cy="714.89" r="4.5"/>
<circle cx="216.34" cy="716.97" r="4.5"/>
<circle cx="212.05" cy="719.12" r="4.5"/>
<circle cx="207.75" cy="721.38" r="4.5"/>
<circle cx="203.46" cy="723.6" r="4.5"/>
<circle cx="199.17" cy="725.79" r="4.5"/>
<circle cx="194.87" cy="727.88" r="4.5"/>
<circle cx="190.58" cy="729.82" r="4.5"/>
<circle cx="186.29" cy="731.66" r="4.5"/>
<circle cx="182" cy="733.38" r="4.5"/>
<circle cx="177.7" cy="735" r="4.5"/>
<circle cx="173.41" cy="736.68" r="4.5"/>
<circle cx="169.12" cy="738.45" r="4.5"/>
<circle cx="164.82" cy="740.21" r="4.5"/>
<circle cx="160.53" cy="741.94" r="4.5"/>
<circle cx="156.24" cy="743.6" r="4.5"/>
<circle cx="151.94" cy="745.11" r="4.5"/>
<circle cx="147.65" cy="746.49" r="4.5"/>
<circle cx="143.36" cy="747.68" r="4.5"/>
<circle cx="139.06" cy="748.72" r="4.5"/>
<circle cx="134.77" cy="749.59" r="4.5"/>
<circle cx="130.48" cy="750.27" r="4.5"/>
<circle cx="126.19" cy="750.89" r="4.5"/>
<circle cx="121.89" cy="751.54" r="4.5"/>
<circle cx="117.6" cy="752.2" r="4.5"/>
</g>
<polyline points="117.6,747 121.89,713.8 126.19,713.8 130.48,679.1 134.77,669.8 139.06,646.8 143.36,640.8 147.65,632.7 151.94,624 156.24,611.5 160.53,603.4 164.82,600.1 169.12,592.5 173.41,586 177.7,580.97 182,578.29 186.29,573.86 190.58,567.33 194.87,563.02 199.17,560.41 203.46,557.82 207.75,555.28 212.05,552.7 216.34,550.11 220.63,547.51 224.93,544.85 229.22,542.61 233.51,542.16 237.8,541.82 242.1,541.25 246.39,540.6 250.68,540.06 254.98,539.73 259.27,539.49 263.56,539.22 267.86,538.71 272.15,537.57 276.44,536.41 280.73,536 285.03,535.96 289.32,533.93 293.61,531.11 297.91,528.62 302.2,525.9 306.49,522.8 310.78,519.54 315.08,516.3 319.37,513.02 323.66,509.61 327.96,506.37 332.25,503.49 336.54,501.15 340.84,499.59 345.13,498.35 349.42,497.31 353.72,496.39 358.01,495.59 362.3,494.88 366.59,494.24 370.89,493.63 375.18,493.08 379.47,492.64 383.77,492.31 388.06,492.02 392.35,491.77 396.64,491.55 400.94,491.36 405.23,491.17 409.52,491 413.82,490.82 418.11,490.66 422.4,490.51 426.7,490.36 430.99,490.22 435.28,490.09 439.58,489.98 443.87,489.87 448.16,489.78 452.45,489.7 456.75,489.63 461.04,489.57 465.33,489.51 469.63,489.46 473.92,489.4 478.21,489.36 482.5,489.31 486.8,489.27 491.09,489.23 495.38,489.19 499.68,489.15 503.97,489.11 508.26,489.07 512.56,489.04 516.85,489" fill="none" stroke="#000" stroke-width="0.8"/>
<g fill="#ff0" stroke="#000" stroke-width="0.7">
<path d="M516.85 483.55L522.1 489L516.85 494.45L511.6 489Z"/>
<path d="M512.56 483.59L517.81 489.04L512.56 494.49L507.31 489.04Z"/>
<path d="M508.26 483.62L513.51 489.07L508.26 494.52L503.01 489.07Z"/>
<path d="M503.97 483.66L509.22 489.11L503.97 494.56L498.72 489.11Z"/>
<path d="M499.68 483.7L504.93 489.15L499.68 494.6L494.43 489.15Z"/>
<path d="M495.38 483.74L500.63 489.19L495.38 494.64L490.13 489.19Z"/>
<path d="M491.09 483.78L496.34 489.23L491.09 494.68L485.84 489.23Z"/>
<path d="M486.8 483.82L492.05 489.27L486.8 494.72L481.55 489.27Z"/>
<path d="M482.5 483.86L487.75 489.31L482.5 494.76L477.25 489.31Z"/>
<path d="M478.21 483.91L483.46 489.36L478.21 494.81L472.96 489.36Z"/>
<path d="M473.92 483.95L479.17 489.4L473.92 494.85L468.67 489.4Z"/>
<path d="M469.63 484.01L474.88 489.46L469.63 494.91L464.38 489.46Z"/>
<path d="M465.33 484.06L470.58 489.51L465.33 494.96L460.08 489.51Z"/>
<path d="M461.04 484.12L466.29 489.57L461.04 495.02L455.79 489.57Z"/>
<path d="M456.75 484.18L462 489.63L456.75 495.08L451.5 489.63Z"/>
<path d="M452.45 484.25L457.7 489.7L452.45 495.15L447.2 489.7Z"/>
<path d="M448.16 484.33L453.41 489.78L448.16 495.23L442.91 489.78Z"/>
<path d="M443.87 484.42L449.12 489.87L443.87 495.32L438.62 489.87Z"/>
<path d="M439.58 484.53L444.83 489.98L439.58 495.43L434.33 489.98Z"/>
<path d="M435.28 484.64L440.53 490.09L435.28 495.54L430.03 490.09Z"/>
<path d="M430.99 484.77L436.24 490.22L430.99 495.67L425.74 490.22Z"/>
<path d="M426.7 484.91L431.95 490.36L426.7 495.81L421.45 490.36Z"/>
<path d="M422.4 485.06L427.65 490.51L422.4 495.96L417.15 490.51Z"/>
<path d="M418.11 485.21L423.36 490.66L418.11 496.11L412.86 490.66Z"/>
<path d="M413.82 485.37L419.07 490.82L413.82 496.27L408.57 490.82Z"/>
<path d="M409.52 485.55L414.77 491L409.52 496.45L404.27 491Z"/>
<path d="M405.23 485.72L410.48 491.17L405.23 496.62L399.98 491.17Z"/>
<path d="M400.94 485.91L406.19 491.36L400.94 496.81L395.69 491.36Z"/>
<path d="M396.64 486.1L401.89 491.55L396.64 497L391.39 491.55Z"/>
<path d="M392.35 486.32L397.6 491.77L392.35 497.22L387.1 491.77Z"/>
<path d="M388.06 486.57L393.31 492.02L388.06 497.47L382.81 492.02Z"/>
<path d="M383.77 486.86L389.02 492.31L383.77 497.76L378.52 492.31Z"/>
<path d="M379.47 487.19L384.72 492.64L379.47 498.09L374.22 492.64Z"/>
<path d="M375.18 487.63L380.43 493.08L375.18 498.53L369.93 493.08Z"/>
<path d="M370.89 488.18L376.14 493.63L370.89 499.08L365.64 493.63Z"/>
<path d="M366.59 488.79L371.84 494.24L366.59 499.69L361.34 494.24Z"/>
<path d="M362.3 489.43L367.55 494.88L362.3 500.33L357.05 494.88Z"/>
<path d="M358.01 490.14L363.26 495.59L358.01 501.04L352.76 495.59Z"/>
<path d="M353.72 490.94L358.97 496.39L353.72 501.84L348.47 496.39Z"/>
<path d="M349.42 491.86L354.67 497.31L349.42 502.76L344.17 497.31Z"/>
<path d="M345.13 492.9L350.38 498.35L345.13 503.8L339.88 498.35Z"/>
<path d="M340.84 494.14L346.09 499.59L340.84 505.04L335.59 499.59Z"/>
<path d="M336.54 495.7L341.79 501.15L336.54 506.6L331.29 501.15Z"/>
<path d="M332.25 498.04L337.5 503.49L332.25 508.94L327 503.49Z"/>
<path d="M327.96 500.92L333.21 506.37L327.96 511.82L322.71 506.37Z"/>
<path d="M323.66 504.16L328.91 509.61L323.66 515.06L318.41 509.61Z"/>
<path d="M319.37 507.57L324.62 513.02L319.37 518.47L314.12 513.02Z"/>
<path d="M315.08 510.85L320.33 516.3L315.08 521.75L309.83 516.3Z"/>
<path d="M310.78 514.09L316.03 519.54L310.78 524.99L305.53 519.54Z"/>
<path d="M306.49 517.35L311.74 522.8L306.49 528.25L301.24 522.8Z"/>
<path d="M302.2 520.45L307.45 525.9L302.2 531.35L296.95 525.9Z"/>
<path d="M297.91 523.17L303.16 528.62L297.91 534.07L292.66 528.62Z"/>
<path d="M293.61 525.66L298.86 531.11L293.61 536.56L288.36 531.11Z"/>
<path d="M289.32 528.48L294.57 533.93L289.32 539.38L284.07 533.93Z"/>
<path d="M285.03 530.51L290.28 535.96L285.03 541.41L279.78 535.96Z"/>
<path d="M280.73 530.55L285.98 536L280.73 541.45L275.48 536Z"/>
<path d="M276.44 530.96L281.69 536.41L276.44 541.86L271.19 536.41Z"/>
<path d="M272.15 532.12L277.4 537.57L272.15 543.02L266.9 537.57Z"/>
<path d="M267.86 533.26L273.11 538.71L267.86 544.16L262.61 538.71Z"/>
<path d="M263.56 533.77L268.81 539.22L263.56 544.67L258.31 539.22Z"/>
<path d="M259.27 534.04L264.52 539.49L259.27 544.94L254.02 539.49Z"/>
<path d="M254.98 534.28L260.23 539.73L254.98 545.18L249.73 539.73Z"/>
<path d="M250.68 534.61L255.93 540.06L250.68 545.51L245.43 540.06Z"/>
<path d="M246.39 535.15L251.64 540.6L246.39 546.05L241.14 540.6Z"/>
<path d="M242.1 535.8L247.35 541.25L242.1 546.7L236.85 541.25Z"/>
<path d="M237.8 536.37L243.05 541.82L237.8 547.27L232.55 541.82Z"/>
<path d="M233.51 536.71L238.76 542.16L233.51 547.61L228.26 542.16Z"/>
<path d="M229.22 537.16L234.47 542.61L229.22 548.06L223.97 542.61Z"/>
<path d="M224.93 539.4L230.18 544.85L224.93 550.3L219.68 544.85Z"/>
<path d="M220.63 542.06L225.88 547.51L220.63 552.96L215.38 547.51Z"/>
<path d="M216.34 544.66L221.59 550.11L216.34 555.56L211.09 550.11Z"/>
<path d="M212.05 547.25L217.3 552.7L212.05 558.15L206.8 552.7Z"/>
<path d="M207.75 549.83L213 555.28L207.75 560.73L202.5 555.28Z"/>
<path d="M203.46 552.37L208.71 557.82L203.46 563.27L198.21 557.82Z"/>
<path d="M199.17 554.96L204.42 560.41L199.17 565.86L193.92 560.41Z"/>
<path d="M194.87 557.57L200.12 563.02L194.87 568.47L189.62 563.02Z"/>
<path d="M190.58 561.88L195.83 567.33L190.58 572.78L185.33 567.33Z"/>
<path d="M186.29 568.41L191.54 573.86L186.29 579.31L181.04 573.86Z"/>
<path d="M182 572.84L187.25 578.29L182 583.74L176.75 578.29Z"/>
<path d="M177.7 575.52L182.95 580.97L177.7 586.42L172.45 580.97Z"/>
<path d="M173.41 580.55L178.66 586L173.41 591.45L168.16 586Z"/>
<path d="M169.12 587.05L174.37 592.5L169.12 597.95L163.87 592.5Z"/>
<path d="M164.82 594.65L170.07 600.1L164.82 605.55L159.57 600.1Z"/>
<path d="M160.53 597.95L165.78 603.4L160.53 608.85L155.28 603.4Z"/>
<path d="M156.24 606.05L161.49 611.5L156.24 616.95L150.99 611.5Z"/>
<path d="M151.94 618.55L157.19 624L151.94 629.45L146.69 624Z"/>
<path d="M147.65 627.25L152.9 632.7L147.65 638.15L142.4 632.7Z"/>
<path d="M143.36 635.35L148.61 640.8L143.36 646.25L138.11 640.8Z"/>
<path d="M139.06 641.35L144.31 646.8L139.06 652.25L133.81 646.8Z"/>
<path d="M134.77 664.35L140.02 669.8L134.77 675.25L129.52 669.8Z"/>
<path d="M130.48 673.65L135.73 679.1L130.48 684.55L125.23 679.1Z"/>
<path d="M126.19 708.35L131.44 713.8L126.19 719.25L120.94 713.8Z"/>
<path d="M121.89 708.35L127.14 713.8L121.89 719.25L116.64 713.8Z"/>
<path d="M117.6 741.55L122.85 747L117.6 752.45L112.35 747Z"/>
</g>
<rect x="84.0" y="422.0" width="436.0" height="335.0" fill="none" stroke="#000" stroke-width="2"/>
<path d="M83.8 757V749 M83.8 422V430 M96.71 757V752.5 M96.71 422V426.5 M104.26 757V752.5 M104.26 422V426.5 M109.62 757V752.5 M109.62 422V426.5 M113.77 757V752.5 M113.77 422V426.5 M117.17 757V752.5 M117.17 422V426.5 M120.04 757V752.5 M120.04 422V426.5 M122.52 757V752.5 M122.52 422V426.5 M124.72 757V752.5 M124.72 422V426.5 M126.68 757V749 M126.68 422V430 M139.59 757V752.5 M139.59 422V426.5 M147.14 757V752.5 M147.14 422V426.5 M152.5 757V752.5 M152.5 422V426.5 M156.65 757V752.5 M156.65 422V426.5 M160.05 757V752.5 M160.05 422V426.5 M162.92 757V752.5 M162.92 422V426.5 M165.4 757V752.5 M165.4 422V426.5 M167.6 757V752.5 M167.6 422V426.5 M169.56 757V749 M169.56 422V430 M182.47 757V752.5 M182.47 422V426.5 M190.02 757V752.5 M190.02 422V426.5 M195.38 757V752.5 M195.38 422V426.5 M199.53 757V752.5 M199.53 422V426.5 M202.93 757V752.5 M202.93 422V426.5 M205.8 757V752.5 M205.8 422V426.5 M208.28 757V752.5 M208.28 422V426.5 M210.48 757V752.5 M210.48 422V426.5 M212.44 757V749 M212.44 422V430 M225.35 757V752.5 M225.35 422V426.5 M232.9 757V752.5 M232.9 422V426.5 M238.26 757V752.5 M238.26 422V426.5 M242.41 757V752.5 M242.41 422V426.5 M245.81 757V752.5 M245.81 422V426.5 M248.68 757V752.5 M248.68 422V426.5 M251.16 757V752.5 M251.16 422V426.5 M253.36 757V752.5 M253.36 422V426.5 M255.32 757V749 M255.32 422V430 M268.23 757V752.5 M268.23 422V426.5 M275.78 757V752.5 M275.78 422V426.5 M281.14 757V752.5 M281.14 422V426.5 M285.29 757V752.5 M285.29 422V426.5 M288.69 757V752.5 M288.69 422V426.5 M291.56 757V752.5 M291.56 422V426.5 M294.04 757V752.5 M294.04 422V426.5 M296.24 757V752.5 M296.24 422V426.5 M298.2 757V749 M298.2 422V430 M311.11 757V752.5 M311.11 422V426.5 M318.66 757V752.5 M318.66 422V426.5 M324.02 757V752.5 M324.02 422V426.5 M328.17 757V752.5 M328.17 422V426.5 M331.57 757V752.5 M331.57 422V426.5 M334.44 757V752.5 M334.44 422V426.5 M336.92 757V752.5 M336.92 422V426.5 M339.12 757V752.5 M339.12 422V426.5 M341.08 757V749 M341.08 422V430 M353.99 757V752.5 M353.99 422V426.5 M361.54 757V752.5 M361.54 422V426.5 M366.9 757V752.5 M366.9 422V426.5 M371.05 757V752.5 M371.05 422V426.5 M374.45 757V752.5 M374.45 422V426.5 M377.32 757V752.5 M377.32 422V426.5 M379.8 757V752.5 M379.8 422V426.5 M382 757V752.5 M382 422V426.5 M383.96 757V749 M383.96 422V430 M396.87 757V752.5 M396.87 422V426.5 M404.42 757V752.5 M404.42 422V426.5 M409.78 757V752.5 M409.78 422V426.5 M413.93 757V752.5 M413.93 422V426.5 M417.33 757V752.5 M417.33 422V426.5 M420.2 757V752.5 M420.2 422V426.5 M422.68 757V752.5 M422.68 422V426.5 M424.88 757V752.5 M424.88 422V426.5 M426.84 757V749 M426.84 422V430 M439.75 757V752.5 M439.75 422V426.5 M447.3 757V752.5 M447.3 422V426.5 M452.66 757V752.5 M452.66 422V426.5 M456.81 757V752.5 M456.81 422V426.5 M460.21 757V752.5 M460.21 422V426.5 M463.08 757V752.5 M463.08 422V426.5 M465.56 757V752.5 M465.56 422V426.5 M467.76 757V752.5 M467.76 422V426.5 M469.72 757V749 M469.72 422V430 M482.63 757V752.5 M482.63 422V426.5 M490.18 757V752.5 M490.18 422V426.5 M495.54 757V752.5 M495.54 422V426.5 M499.69 757V752.5 M499.69 422V426.5 M503.09 757V752.5 M503.09 422V426.5 M505.96 757V752.5 M505.96 422V426.5 M508.44 757V752.5 M508.44 422V426.5 M510.64 757V752.5 M510.64 422V426.5 M512.6 757V749 M512.6 422V430" stroke="#000" stroke-width="1.6" fill="none"/>
<text transform="translate(83.8 790.3) scale(1 1.05)" text-anchor="middle" class="tk">10<tspan class="sup" dy="-12.67">-6</tspan></text>
<text transform="translate(126.68 790.3) scale(1 1.05)" text-anchor="middle" class="tk">10<tspan class="sup" dy="-12.67">-5</tspan></text>
<text transform="translate(169.56 790.3) scale(1 1.05)" text-anchor="middle" class="tk">10<tspan class="sup" dy="-12.67">-4</tspan></text>
<text transform="translate(212.44 790.3) scale(1 1.05)" text-anchor="middle" class="tk">10<tspan class="sup" dy="-12.67">-3</tspan></text>
<text transform="translate(255.32 790.3) scale(1 1.05)" text-anchor="middle" class="tk">10<tspan class="sup" dy="-12.67">-2</tspan></text>
<text transform="translate(298.2 790.3) scale(1 1.05)" text-anchor="middle" class="tk">10<tspan class="sup" dy="-12.67">-1</tspan></text>
<text transform="translate(341.08 790.3) scale(1 1.05)" text-anchor="middle" class="tk">10<tspan class="sup" dy="-12.67">0</tspan></text>
<text transform="translate(383.96 790.3) scale(1 1.05)" text-anchor="middle" class="tk">10<tspan class="sup" dy="-12.67">1</tspan></text>
<text transform="translate(426.84 790.3) scale(1 1.05)" text-anchor="middle" class="tk">10<tspan class="sup" dy="-12.67">2</tspan></text>
<text transform="translate(469.72 790.3) scale(1 1.05)" text-anchor="middle" class="tk">10<tspan class="sup" dy="-12.67">3</tspan></text>
<text transform="translate(512.6 790.3) scale(1 1.05)" text-anchor="middle" class="tk">10<tspan class="sup" dy="-12.67">4</tspan></text>
<text transform="translate(74.6 756.5) scale(1 1.05)" text-anchor="end" class="tk">0</text>
<text transform="translate(74.6 699.7) scale(1 1.05)" text-anchor="end" class="tk">2</text>
<text transform="translate(74.6 642.9) scale(1 1.05)" text-anchor="end" class="tk">4</text>
<text transform="translate(74.6 586.1) scale(1 1.05)" text-anchor="end" class="tk">6</text>
<text transform="translate(74.6 529.3) scale(1 1.05)" text-anchor="end" class="tk">8</text>
<text transform="translate(74.6 472.5) scale(1 1.05)" text-anchor="end" class="tk">10</text>
<path d="M84 749.7H92 M84 735.5H88.5 M84 721.3H88.5 M84 707.1H88.5 M84 692.9H92 M84 678.7H88.5 M84 664.5H88.5 M84 650.3H88.5 M84 636.1H92 M84 621.9H88.5 M84 607.7H88.5 M84 593.5H88.5 M84 579.3H92 M84 565.1H88.5 M84 550.9H88.5 M84 536.7H88.5 M84 522.5H92 M84 508.3H88.5 M84 494.1H88.5 M84 479.9H88.5 M84 465.7H92 M84 451.5H88.5 M84 437.3H88.5 M84 423.1H88.5" stroke="#000" stroke-width="1.6" fill="none"/>
<text transform="translate(529.2 754.2) scale(1 1.05)" text-anchor="start" class="tk">0</text>
<text transform="translate(529.2 687.28) scale(1 1.05)" text-anchor="start" class="tk">2</text>
<text transform="translate(529.2 620.36) scale(1 1.05)" text-anchor="start" class="tk">4</text>
<text transform="translate(529.2 553.44) scale(1 1.05)" text-anchor="start" class="tk">6</text>
<text transform="translate(529.2 486.52) scale(1 1.05)" text-anchor="start" class="tk">8</text>
<path d="M520 747.4H512 M520 730.67H515.5 M520 713.94H515.5 M520 697.21H515.5 M520 680.48H512 M520 663.75H515.5 M520 647.02H515.5 M520 630.29H515.5 M520 613.56H512 M520 596.83H515.5 M520 580.1H515.5 M520 563.37H515.5 M520 546.64H512 M520 529.91H515.5 M520 513.18H515.5 M520 496.45H515.5 M520 479.72H512 M520 462.99H515.5 M520 446.26H515.5 M520 429.53H515.5" stroke="#000" stroke-width="1.6" fill="none"/>
<line x1="616" y1="422.3" x2="616" y2="757.6" stroke="#000" stroke-width="2"/>
<text transform="translate(624.8 758.3) scale(1 1.05)" text-anchor="start" class="tk">0</text>
<text transform="translate(624.8 705.78) scale(1 1.05)" text-anchor="start" class="tk">1</text>
<text transform="translate(624.8 653.26) scale(1 1.05)" text-anchor="start" class="tk">2</text>
<text transform="translate(624.8 600.74) scale(1 1.05)" text-anchor="start" class="tk">3</text>
<text transform="translate(624.8 548.22) scale(1 1.05)" text-anchor="start" class="tk">4</text>
<text transform="translate(624.8 495.7) scale(1 1.05)" text-anchor="start" class="tk">5</text>
<text transform="translate(624.8 443.18) scale(1 1.05)" text-anchor="start" class="tk">6</text>
<path d="M616 751.5H608 M616 741H611.5 M616 730.49H611.5 M616 719.99H611.5 M616 709.48H611.5 M616 698.98H608 M616 688.48H611.5 M616 677.97H611.5 M616 667.47H611.5 M616 656.96H611.5 M616 646.46H608 M616 635.96H611.5 M616 625.45H611.5 M616 614.95H611.5 M616 604.44H611.5 M616 593.94H608 M616 583.44H611.5 M616 572.93H611.5 M616 562.43H611.5 M616 551.92H611.5 M616 541.42H608 M616 530.92H611.5 M616 520.41H611.5 M616 509.91H611.5 M616 499.4H611.5 M616 488.9H608 M616 478.4H611.5 M616 467.89H611.5 M616 457.39H611.5 M616 446.88H611.5 M616 436.38H608 M616 425.88H611.5" stroke="#000" stroke-width="1.6" fill="none"/>
<text x="91.3" y="466.4" class="se" font-size="42">(b)</text>
<g transform="translate(4.2 421.3)"><path d="M288.5 387 C288.6 382.6 290.4 380.2 292.6 380.2 C296 380.2 297.4 384.5 298.3 389.5 L299.4 395.6" fill="none" stroke="#000" stroke-width="1.9"/><path d="M303.4 380.1 L307 380.1 L300.3 396.4 L298.3 395.6 Z" fill="#000"/><path d="M298.9 393.8 C300.6 398.5 300.9 404 300.1 406.3 C299.4 408.2 296.2 408.3 295.6 406.4 C295 404 296.7 398.5 298.9 393.8 Z" fill="#000"/></g>
<text transform="translate(32.1 604.4) rotate(-90) skewX(-8)" class="it" font-size="32">V</text>
<text transform="translate(575 604.6) rotate(-90)" class="it" font-size="32">H</text>
<text transform="translate(678.4 630.1) rotate(-90)" class="se" font-size="31">10<tspan font-size="18.4" dy="-18.3">2</tspan><tspan class="it" dy="18.3"> q</tspan></text>
</svg>
</body></html>
